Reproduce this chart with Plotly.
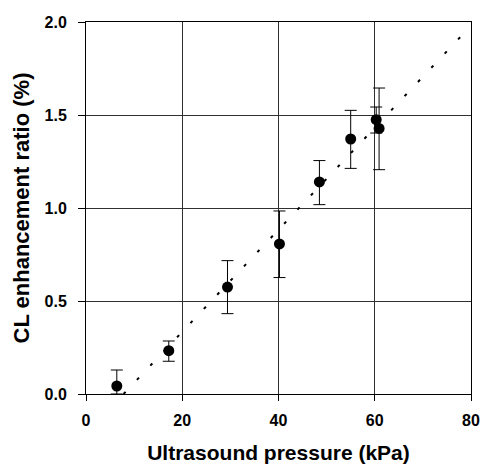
import plotly.graph_objects as go

pressure = [6.4, 17.2, 29.4, 40.2, 48.5, 55.0, 60.3, 60.9]
ratio = [0.043, 0.233, 0.575, 0.807, 1.140, 1.371, 1.475, 1.428]
err_plus = [0.086, 0.052, 0.142, 0.177, 0.115, 0.154, 0.068, 0.217]
err_minus = [0.043, 0.057, 0.143, 0.181, 0.122, 0.158, 0.072, 0.222]

fit_x = [7.8, 80.0]
fit_y = [0.0, 1.98]

x_ticks = [0, 20, 40, 60, 80]
x_tick_labels = ["0", "20", "40", "60", "80"]
y_ticks = [0.0, 0.5, 1.0, 1.5, 2.0]
y_tick_labels = ["0.0", "0.5", "1.0", "1.5", "2.0"]

fig = go.Figure()
fig.add_trace(go.Scatter(
    x=fit_x, y=fit_y, mode="lines",
    line=dict(color="black", width=2, dash="3px,16.5px"),
    hoverinfo="skip", showlegend=False,
))
fig.add_trace(go.Scatter(
    x=pressure, y=ratio, mode="markers",
    marker=dict(color="black", size=11),
    error_y=dict(type="data", array=err_plus, arrayminus=err_minus,
                 color="black", thickness=1, width=6),
    showlegend=False,
))

font = "Liberation Sans, Arial, sans-serif"
grid = "#303030"
fig.update_layout(
    width=482, height=464,
    margin=dict(l=86, r=11, t=22, b=70, autoexpand=False),
    paper_bgcolor="white", plot_bgcolor="white",
    font=dict(family=font, color="black"),
    xaxis=dict(
        range=[0, 80], tickvals=x_ticks,
        ticktext=["<b>%s</b>" % t for t in x_tick_labels],
        ticks="outside", ticklen=6, tickcolor="black", ticklabelstandoff=6,
        ticklabeloverflow="allow",
        showline=True, linecolor="black", linewidth=1, mirror=True,
        showgrid=True, gridcolor=grid, gridwidth=1, zeroline=False,
        automargin=False,
        tickfont=dict(size=16, family=font, color="black"),
        title=dict(text="<b>Ultrasound pressure (kPa)</b>", standoff=21,
                   font=dict(size=21, family=font, color="black")),
    ),
    yaxis=dict(
        range=[0, 2.0], tickvals=y_ticks,
        ticktext=["<b>%s</b>" % t for t in y_tick_labels],
        ticks="outside", ticklen=7, tickcolor="black", ticklabelstandoff=8,
        ticklabeloverflow="allow",
        showline=True, linecolor="black", linewidth=1, mirror=True,
        showgrid=True, gridcolor=grid, gridwidth=1, zeroline=False,
        automargin=False,
        tickfont=dict(size=16, family=font, color="black"),
        title=dict(text="<b>CL enhancement ratio (%)</b>", standoff=8,
                   font=dict(size=22, family=font, color="black")),
    ),
)
fig.write_html(
    "out.html",
    config={"displayModeBar": False},
    post_script="document.body.style.margin='0';document.body.style.overflow='hidden';",
)
